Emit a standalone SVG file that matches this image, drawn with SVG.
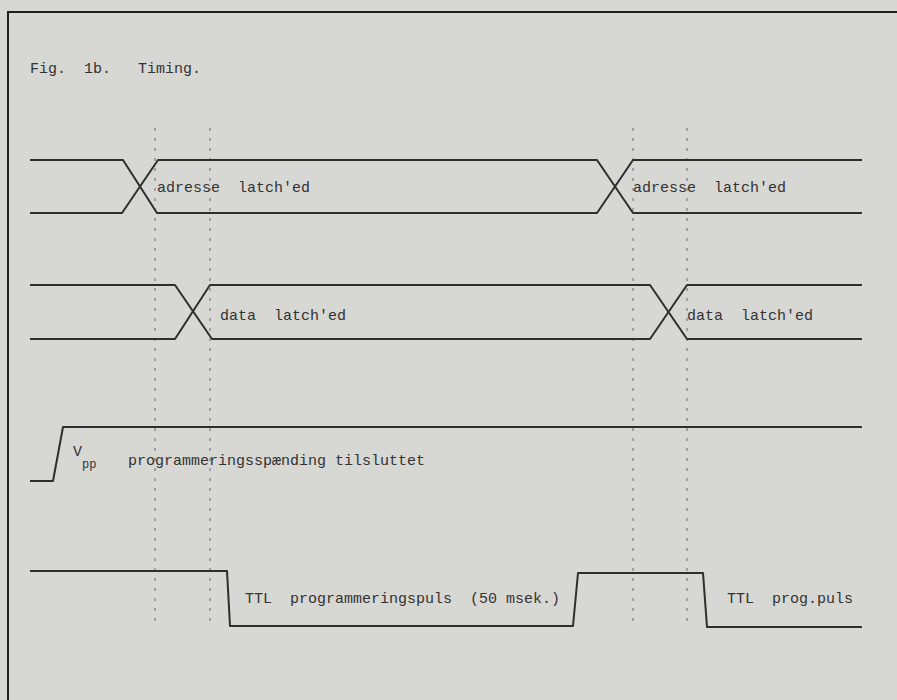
<svg xmlns="http://www.w3.org/2000/svg" width="897" height="700" viewBox="0 0 897 700">
<style>
.sig{fill:none;stroke:#2e2e2e;stroke-width:2;stroke-linejoin:round}
.dash{fill:none;stroke:#6a6a6a;stroke-width:1;stroke-dasharray:3 7}
.t{font-family:"Liberation Mono","Courier New",monospace;font-size:15px;fill:#333}
.ts{font-family:"Liberation Mono","Courier New",monospace;font-size:12px;fill:#333}
</style>
<rect x="0" y="0" width="897" height="700" fill="#d7d7d3"/>
<path d="M8,700 V12 H897" fill="none" stroke="#1e1e1e" stroke-width="2"/>
<text class="t" x="30" y="73" xml:space="preserve">Fig.  1b.   Timing.</text>
<g id="markers">
<line class="dash" x1="155" y1="128" x2="155" y2="625"/>
<line class="dash" x1="210" y1="128" x2="210" y2="625"/>
<line class="dash" x1="633" y1="128" x2="633" y2="625"/>
<line class="dash" x1="687" y1="128" x2="687" y2="625"/>
</g>
<g id="adresse">
<path class="sig" d="M30,160 H123 L157,213 H597 L633,160 H862"/>
<path class="sig" d="M30,213 H122 L158,160 H597 L633,213 H862"/>
<text class="t" x="157" y="192" xml:space="preserve">adresse  latch'ed</text>
<text class="t" x="633" y="192" xml:space="preserve">adresse  latch'ed</text>
</g>
<g id="data">
<path class="sig" d="M30,285 H175 L212,339 H650 L687,285 H862"/>
<path class="sig" d="M30,339 H175 L210,285 H650 L687,339 H862"/>
<text class="t" x="220" y="320" xml:space="preserve">data  latch'ed</text>
<text class="t" x="687" y="320" xml:space="preserve">data  latch'ed</text>
</g>
<g id="vpp">
<path class="sig" d="M30,481 H53 L63,427 H862"/>
<text class="t" x="73" y="456">V</text>
<text class="ts" x="82" y="468">pp</text>
<text class="t" x="128" y="465">programmeringsspænding tilsluttet</text>
</g>
<g id="ttl">
<path class="sig" d="M30,571 H227 L230,626 H573 L578,573 H703 L707,627 H862"/>
<text class="t" x="245" y="603" xml:space="preserve">TTL  programmeringspuls  (50 msek.)</text>
<text class="t" x="727" y="603" xml:space="preserve">TTL  prog.puls</text>
</g>
</svg>
